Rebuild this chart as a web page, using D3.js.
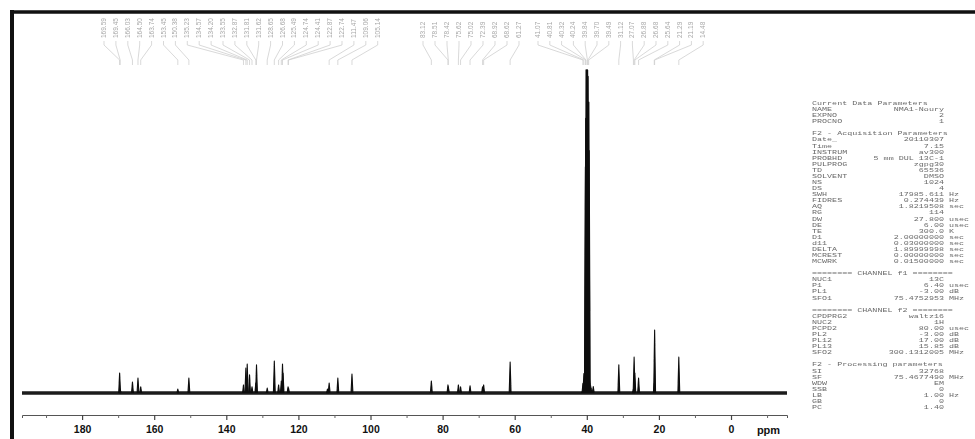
<!DOCTYPE html>
<html>
<head>
<meta charset="utf-8">
<script src="https://cdn.jsdelivr.net/npm/d3@7"></script>
<style>
  html, body { margin: 0; padding: 0; background: #fff; }
  svg { display: block; }
</style>
</head>
<body>
<svg id="chart" width="975" height="439"></svg>
<script>
// 13C NMR spectrum (DMSO-d6, 75 MHz)

// Resolved lines: chemical shift (ppm) and relative intensity (solvent top = 100)
const peakPpm = [
  169.59, 169.45, 166.03, 164.50, 163.74, 153.45, 150.38, 135.23, 134.57, 134.20,
  133.55, 132.87, 131.81, 131.62, 128.65, 126.68, 125.49, 124.74, 124.41, 124.26,
  122.87, 122.74, 111.94, 111.47, 109.06, 105.14,
  83.12, 78.51, 78.42, 75.62, 75.02, 72.39, 68.92, 68.62, 61.27,
  41.07, 40.81, 40.32, 40.24, 40.15, 39.84, 39.70, 39.49, 39.40, 38.21,
  31.12, 27.07, 26.88, 26.68, 25.64, 21.29, 21.19, 14.48
];
const peakIntensity = [
  6.2, 1.2, 3.4, 4.6, 1.9, 1.2, 4.6, 2.5, 7.7, 9.0,
  5.6, 1.9, 3.1, 8.7, 1.5, 9.9, 2.5, 3.7, 9.0, 6.2,
  1.9, 1.5, 1.2, 3.1, 4.6, 5.9,
  3.7, 2.5, 1.9, 2.5, 1.9, 2.2, 1.9, 2.5, 9.6,
  3.0, 6.0, 70, 85, 100, 100, 98, 90, 75, 2.0,
  8.7, 1.2, 11.1, 6.2, 4.6, 3.0, 19.5, 11.1
];

// Broad solvent foot under the DMSO multiplet
const broadPpm = [39.8];
const broadIntensity = [7];

// Peak-pick labels, in three groups
const labelGroupLeft = [
  "169.59", "169.45", "166.03", "164.50", "163.74", "153.45", "150.38", "135.23",
  "134.57", "134.20", "133.55", "132.87", "131.81", "131.62", "128.65", "126.68",
  "125.49", "124.74", "124.41", "122.87", "122.74", "111.47", "109.06", "105.14"
];
const labelGroupMid = [
  "83.12", "78.51", "78.42", "75.62", "75.02", "72.39", "68.92", "68.62", "61.27"
];
const labelGroupRight = [
  "41.07", "40.81", "40.32", "40.24", "39.84", "39.70", "39.49", "31.12",
  "27.07", "26.88", "26.68", "25.64", "21.29", "21.19", "14.48"
];

// Axis ticks (ppm)
const majorTicks = [180, 160, 140, 120, 100, 80, 60, 40, 20, 0];
const minorTicks = [190, 170, 150, 130, 110, 90, 70, 50, 30, 10, -10];
const ppmDomain = [196.67, -15.53];

// Acquisition / processing parameter listing
const paramNames = [
  "Current Data Parameters", "NAME", "EXPNO", "PROCNO", "",
  "F2 - Acquisition Parameters", "Date_", "Time", "INSTRUM", "PROBHD", "PULPROG",
  "TD", "SOLVENT", "NS", "DS", "SWH", "FIDRES", "AQ", "RG", "DW", "DE", "TE",
  "D1", "d11", "DELTA", "MCREST", "MCWRK", "",
  "======== CHANNEL f1 ========", "NUC1", "P1", "PL1", "SFO1", "",
  "======== CHANNEL f2 ========", "CPDPRG2", "NUC2", "PCPD2", "PL2", "PL12", "PL13", "SFO2", "",
  "F2 - Processing parameters", "SI", "SF", "WDW", "SSB", "LB", "GB", "PC"
];
const paramValues = [
  "", "NMA1-Noury", "2", "1", "",
  "", "20110307", "7.15", "av300", "5 mm DUL 13C-1", "zgpg30",
  "65536", "DMSO", "1024", "4", "17985.611", "0.274439", "1.8219508", "114", "27.800", "6.00", "300.0",
  "2.00000000", "0.03000000", "1.89999998", "0.00000000", "0.01500000", "",
  "", "13C", "6.40", "-3.00", "75.4752953", "",
  "", "waltz16", "1H", "80.00", "-3.00", "17.00", "15.85", "300.1312005", "",
  "", "32768", "75.4677490", "EM", "0", "1.00", "0", "1.40"
];
const paramUnits = [
  "", "", "", "", "",
  "", "", "", "", "", "",
  "", "", "", "", "Hz", "Hz", "sec", "", "usec", "usec", "K",
  "sec", "sec", "sec", "sec", "sec", "",
  "", "", "usec", "dB", "MHz", "",
  "", "", "", "usec", "dB", "dB", "dB", "MHz", "",
  "", "", "MHz", "", "", "Hz", "", ""
];

const svg = d3.select("#chart");

const x = d3.scaleLinear().domain(ppmDomain).range([22, 787]);
const y = d3.scaleLinear().domain([0, 100]).range([393, 70]);

// Outer frame (top and left rules)
svg.append("line")
  .attr("x1", 10).attr("x2", 975).attr("y1", 12).attr("y2", 12)
  .attr("stroke", "#111").attr("stroke-width", 3.5);
svg.append("line")
  .attr("x1", 12).attr("x2", 12).attr("y1", 10).attr("y2", 439)
  .attr("stroke", "#111").attr("stroke-width", 4);

// Soft rendering for trace and small print
const defs = svg.append("defs");
defs.append("filter").attr("id", "soft")
  .append("feGaussianBlur").attr("stdDeviation", 0.45);
defs.append("filter").attr("id", "softer")
  .append("feGaussianBlur").attr("stdDeviation", 0.35);

const spec = svg.append("g").attr("filter", "url(#soft)");

// Baseline
spec.append("path")
  .datum(ppmDomain)
  .attr("d", d => d3.line().x(p => x(p)).y(() => y(0))(d))
  .attr("stroke", "#1a1a1a").attr("stroke-width", 3.4).attr("fill", "none");

// Broad solvent foot
const broadHalf = 1.7;
spec.selectAll("path.broad")
  .data(d3.range(broadPpm.length))
  .join("path")
  .attr("class", "broad")
  .attr("d", i => d3.line().curve(d3.curveBasis)([
    [x(broadPpm[i] + broadHalf), y(0)],
    [x(broadPpm[i] + broadHalf * 0.35), y(broadIntensity[i] * 0.3)],
    [x(broadPpm[i]), y(broadIntensity[i] * 1.6)],
    [x(broadPpm[i] - broadHalf * 0.35), y(broadIntensity[i] * 0.3)],
    [x(broadPpm[i] - broadHalf), y(0)]
  ]))
  .attr("fill", "#111").attr("stroke", "#111").attr("stroke-width", 0.8);

// Lines as narrow spikes
const half = 0.26;
spec.selectAll("path.peak")
  .data(d3.range(peakPpm.length))
  .join("path")
  .attr("class", "peak")
  .attr("d", i => d3.line()([
    [x(peakPpm[i] + half), y(0)],
    [x(peakPpm[i]), y(peakIntensity[i])],
    [x(peakPpm[i] - half), y(0)]
  ]))
  .attr("fill", "#111").attr("stroke", "#111")
  .attr("stroke-width", i => peakIntensity[i] > 50 ? 1.6 : 1.1)
  .attr("stroke-linejoin", "round");

// Axes: minor then major ticks
const axisY = 415;
const minorAxis = svg.append("g")
  .attr("transform", `translate(0,${axisY})`)
  .call(d3.axisBottom(x).tickValues(minorTicks).tickSize(3).tickFormat(""));
minorAxis.select(".domain").attr("stroke", "#555").attr("stroke-width", 1);
minorAxis.selectAll(".tick line").attr("stroke", "#666");

const majorAxis = svg.append("g")
  .attr("transform", `translate(0,${axisY})`)
  .call(d3.axisBottom(x).tickValues(majorTicks).tickSize(5).tickPadding(6)
    .tickSizeOuter(0).tickFormat(d3.format("d")));
majorAxis.select(".domain").remove();
majorAxis.selectAll(".tick line").attr("stroke", "#444").attr("stroke-width", 1.2);
majorAxis.selectAll(".tick text")
  .attr("font-family", "Liberation Sans, Arial, sans-serif")
  .attr("font-size", 10.5).attr("font-weight", "bold").attr("fill", "#111");

svg.append("text")
  .attr("x", x(-10.4)).attr("y", axisY + 19)
  .attr("text-anchor", "middle")
  .attr("font-family", "Liberation Sans, Arial, sans-serif")
  .attr("font-size", 11).attr("font-weight", "bold").attr("fill", "#111")
  .text("ppm");

// Peak-pick labels with leader lines
const labelLayer = svg.append("g").attr("filter", "url(#softer)");
function drawLabelGroup(labels, startX, step) {
  labels.forEach((lab, i) => {
    const lx = startX + i * step;
    const px = x(+lab);
    labelLayer.append("text")
      .attr("transform", `translate(${lx + 2},38) rotate(-90)`)
      .attr("font-family", "Liberation Sans, Arial, sans-serif")
      .attr("font-size", 6.5).attr("fill", "#a8a8a8")
      .text(lab);
    labelLayer.append("path")
      .attr("d", d3.line()([[lx, 41], [lx, 45], [px, 60], [px, 65]]))
      .attr("fill", "none").attr("stroke", "#cfcfcf").attr("stroke-width", 0.8);
  });
}
drawLabelGroup(labelGroupLeft, 104, 11.9);
drawLabelGroup(labelGroupMid, 423, 12.0);
drawLabelGroup(labelGroupRight, 538, 11.8);

// Parameter listing
const sx = 1.5;
const pg = svg.append("g")
  .attr("filter", "url(#softer)")
  .append("g")
  .attr("transform", `translate(812,0) scale(${sx},1)`)
  .attr("font-family", "Liberation Mono, DejaVu Sans Mono, monospace")
  .attr("font-size", 5.6).attr("fill", "#6a6a6a");
const lineY = i => 105 + i * 6.08;
paramNames.forEach((name, i) => {
  if (name) pg.append("text").attr("x", 0).attr("y", lineY(i)).text(name);
  if (paramValues[i]) pg.append("text")
    .attr("x", (944 - 812) / sx).attr("y", lineY(i))
    .attr("text-anchor", "end").text(paramValues[i]);
  if (paramUnits[i]) pg.append("text")
    .attr("x", (949 - 812) / sx).attr("y", lineY(i)).text(paramUnits[i]);
});
</script>
</body>
</html>
